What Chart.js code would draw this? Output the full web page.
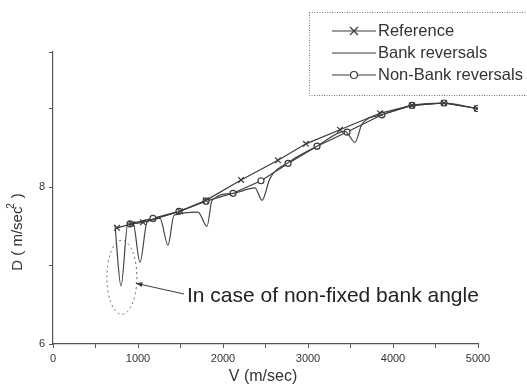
<!DOCTYPE html>
<html lang="en">
<head>
    <meta charset="UTF-8">
    <title>D vs V</title>
    <style>
        html, body { margin: 0; padding: 0; background: #fff; }
        #wrap { width: 527px; height: 388px; }
    </style>
</head>
<body>
    <div id="wrap"><canvas id="myChart" width="527" height="388"></canvas></div>

    <script src="https://cdn.jsdelivr.net/npm/chart.js"></script>
    <script>
        // Reference (x markers)
        const refV = [753, 929, 1059, 1494, 1800, 2212, 2647, 2976, 3376, 3847, 4224, 4600, 4990];
        const refD = [7.48, 7.53, 7.55, 7.69, 7.83, 8.09, 8.34, 8.55, 8.73, 8.94, 9.04, 9.07, 9.0];

        // Bank reversals (plain line with dips)
        const bankV = [729, 800, 882, 941, 1024, 1106, 1259, 1353, 1424, 1706, 1812, 1871, 2118, 2376, 2459, 2553, 2765, 3106, 3435, 3553, 3635, 3870, 4224, 4600, 4988];
        const bankD = [7.52, 6.74, 7.54, 7.54, 7.04, 7.55, 7.60, 7.26, 7.64, 7.68, 7.50, 7.83, 7.92, 7.99, 7.83, 8.11, 8.31, 8.52, 8.71, 8.57, 8.80, 8.92, 9.04, 9.07, 9.0];

        // Non-Bank reversals (circle markers)
        const nbV = [906, 1176, 1482, 1800, 2118, 2447, 2765, 3106, 3459, 3870, 4224, 4600, 4988];
        const nbD = [7.53, 7.60, 7.69, 7.82, 7.92, 8.08, 8.30, 8.52, 8.70, 8.92, 9.04, 9.07, 9.0];

        const xTicks = [0, 1000, 2000, 3000, 4000, 5000];
        const yTicks = [6, 8];

        const seriesNames = ['Reference', 'Bank reversals', 'Non-Bank reversals'];
        const ink = '#3a3a3a';
        const font = 'Arial, "Liberation Sans", sans-serif';

        const pts = (xs, ys) => xs.map((v, i) => ({ x: v, y: ys[i] }));

        // annotation, ellipse, axis titles and legend drawn on top
        const extras = {
            id: 'extras',
            afterDraw(chart) {
                const c = chart.ctx;
                const xs = chart.scales.x, ys = chart.scales.y;
                c.save();

                // dashed ellipse around the first dip
                const ex = xs.getPixelForValue(810), ey = ys.getPixelForValue(6.85);
                c.setLineDash([2, 3]);
                c.strokeStyle = '#666';
                c.lineWidth = 1;
                c.beginPath();
                c.ellipse(ex, ey, 15, 37, 0, 0, Math.PI * 2);
                c.stroke();
                c.setLineDash([]);

                // arrow to the ellipse
                const ax0 = 184, ay0 = 294, ax1 = ex + 14, ay1 = ey + 6;
                c.strokeStyle = ink;
                c.beginPath();
                c.moveTo(ax0, ay0);
                c.lineTo(ax1, ay1);
                c.stroke();
                const ang = Math.atan2(ay1 - ay0, ax1 - ax0);
                c.fillStyle = ink;
                c.beginPath();
                c.moveTo(ax1, ay1);
                c.lineTo(ax1 - 7 * Math.cos(ang - 0.35), ay1 - 7 * Math.sin(ang - 0.35));
                c.lineTo(ax1 - 7 * Math.cos(ang + 0.35), ay1 - 7 * Math.sin(ang + 0.35));
                c.closePath();
                c.fill();

                c.font = '21px ' + font;
                c.textBaseline = 'middle';
                c.textAlign = 'left';
                c.fillStyle = '#222';
                c.fillText('In case of non-fixed bank angle', 187, 296);

                // axis titles
                c.font = '16px ' + font;
                c.fillStyle = '#333';
                c.textAlign = 'center';
                c.fillText('V (m/sec)', 263, 377);
                c.save();
                c.translate(18, 232);
                c.rotate(-Math.PI / 2);
                c.font = '15px ' + font;
                c.fillText('D ( m/sec  )', 0, 0);
                c.font = '10px ' + font;
                c.fillText('2', 26, -7);
                c.restore();

                // legend box
                c.setLineDash([1, 1.5]);
                c.strokeStyle = '#777';
                c.lineWidth = 1;
                c.strokeRect(309.5, 12.5, 230, 83);
                c.setLineDash([]);
                const rows = [31, 53, 75];
                c.font = '16.5px ' + font;
                c.textAlign = 'left';
                c.fillStyle = '#333';
                rows.forEach((ry, i) => {
                    c.strokeStyle = ink;
                    c.lineWidth = 1.2;
                    c.beginPath();
                    c.moveTo(332, ry);
                    c.lineTo(376, ry);
                    c.stroke();
                    if (i === 0) {
                        c.beginPath();
                        c.moveTo(350, ry - 4); c.lineTo(358, ry + 4);
                        c.moveTo(358, ry - 4); c.lineTo(350, ry + 4);
                        c.stroke();
                    } else if (i === 2) {
                        c.fillStyle = '#fff';
                        c.beginPath();
                        c.arc(354, ry, 3.5, 0, Math.PI * 2);
                        c.fill();
                        c.stroke();
                        c.fillStyle = '#333';
                    }
                    c.fillText(seriesNames[i], 378, ry);
                });
                c.restore();
            }
        };

        const ctx = document.getElementById('myChart').getContext('2d');
        const myChart = new Chart(ctx, {
            type: 'line',
            data: {
                datasets: [
                    {
                        label: seriesNames[0],
                        data: pts(refV, refD),
                        borderColor: ink,
                        borderWidth: 1.2,
                        pointStyle: 'crossRot',
                        pointRadius: 4,
                        pointBorderColor: ink,
                        pointBorderWidth: 1.2,
                        tension: 0
                    },
                    {
                        label: seriesNames[1],
                        data: pts(bankV, bankD),
                        borderColor: '#444',
                        borderWidth: 1.2,
                        pointRadius: 0,
                        cubicInterpolationMode: 'monotone'
                    },
                    {
                        label: seriesNames[2],
                        data: pts(nbV, nbD),
                        borderColor: ink,
                        borderWidth: 1.2,
                        pointStyle: 'circle',
                        pointRadius: 3,
                        pointBackgroundColor: '#fff',
                        pointBorderColor: ink,
                        pointBorderWidth: 1.2,
                        tension: 0
                    }
                ]
            },
            options: {
                responsive: false,
                animation: false,
                layout: { padding: { top: 52, right: 49, left: 0, bottom: 0 } },
                plugins: { legend: { display: false }, tooltip: { enabled: false } },
                scales: {
                    x: {
                        type: 'linear',
                        min: 0,
                        max: 5000,
                        afterFit(s) { s.height = 44; },
                        border: { color: '#555', width: 1.2 },
                        grid: { drawOnChartArea: false, tickLength: 4, color: '#555' },
                        ticks: {
                            stepSize: 500,
                            color: '#333',
                            font: { family: font, size: 11 },
                            padding: 4,
                            maxRotation: 0,
                            callback: v => xTicks.includes(v) ? String(v) : ''
                        }
                    },
                    y: {
                        min: 6,
                        max: 9.72,
                        afterFit(s) { s.width = 53; },
                        border: { color: '#555', width: 1.2 },
                        grid: { drawOnChartArea: false, tickLength: 4, color: '#555' },
                        ticks: {
                            stepSize: 1,
                            color: '#333',
                            font: { family: font, size: 11 },
                            padding: 4,
                            callback: v => yTicks.includes(v) ? String(v) : ''
                        }
                    }
                }
            },
            plugins: [extras]
        });
    </script>
</body>
</html>
